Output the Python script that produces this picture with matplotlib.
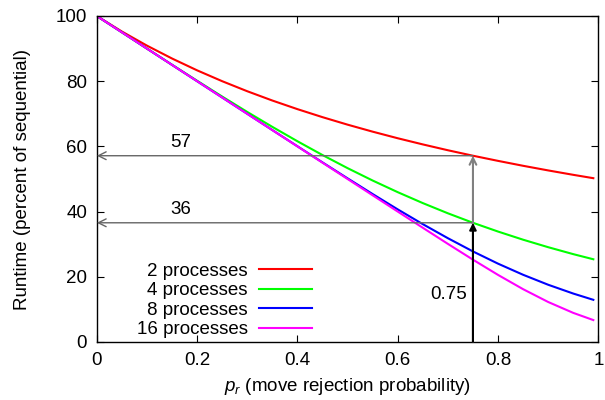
import matplotlib
matplotlib.use("Agg")
import matplotlib.pyplot as plt

plt.rcParams.update({
    "font.size": 13.5,
    "font.family": ["Liberation Sans", "DejaVu Sans"],
    "mathtext.fontset": "custom",
    "mathtext.it": "Liberation Sans:italic",
    "mathtext.rm": "Liberation Sans",
})

# ------------------------------------------------------------
# data (runtime in percent of sequential)
# ------------------------------------------------------------
p_r = [0.00, 0.05, 0.10, 0.15, 0.20, 0.25, 0.30, 0.35, 0.40, 0.45, 0.50,
       0.55, 0.60, 0.65, 0.70, 0.75, 0.80, 0.85, 0.90, 0.95, 0.99]

run_2 = [100.0, 95.24, 90.91, 86.96, 83.33, 80.00, 76.92, 74.07, 71.43, 68.97,
         66.67, 64.52, 62.50, 60.61, 58.82, 57.14, 55.56, 54.05, 52.63, 51.28, 50.25]
run_4 = [100.0, 95.00, 90.01, 85.04, 80.13, 75.29, 70.57, 65.99, 61.58, 57.35,
         53.33, 49.53, 45.96, 42.61, 39.48, 36.57, 33.88, 31.38, 29.08, 26.95, 25.38]
run_8 = [100.0, 95.00, 90.00, 85.00, 80.00, 75.00, 70.00, 65.01, 60.04, 55.09,
         50.20, 45.38, 40.68, 36.15, 31.84, 27.78, 24.03, 20.62, 17.56, 14.86, 12.94]
run_16 = [100.0, 95.00, 90.00, 85.00, 80.00, 75.00, 70.00, 65.00, 60.00, 55.00,
          50.00, 45.00, 40.01, 35.04, 30.10, 25.25, 20.58, 16.20, 12.27, 8.93, 6.73]

series = [
    ("2 processes", run_2, "#ff0000"),
    ("4 processes", run_4, "#00ff00"),
    ("8 processes", run_8, "#0000ff"),
    ("16 processes", run_16, "#ff00ff"),
]

# marked point
p_mark = 0.75
y_mark_2 = 57.14
y_mark_4 = 36.57
lab_2 = "57"
lab_4 = "36"

# ------------------------------------------------------------
# plot
# ------------------------------------------------------------
fig = plt.figure(figsize=(6.05, 4.0), dpi=100)
ax = fig.add_axes([0.160, 0.145, 0.829, 0.815])

for label, vals, col in series:
    ax.plot(p_r, vals, color=col, lw=1.5, label=label)

grey = "#666666"
# horizontal guide arrows
for yv in [y_mark_2, y_mark_4]:
    ax.annotate("", xy=(0, yv), xytext=(p_mark, yv),
                arrowprops=dict(arrowstyle="->", color=grey, lw=1.0,
                                shrinkA=0, shrinkB=0,
                                mutation_scale=14))
# vertical arrows
ax.annotate("", xy=(p_mark, y_mark_2), xytext=(p_mark, 0),
            arrowprops=dict(arrowstyle="->", color="#808080", lw=1.5,
                            shrinkA=0, shrinkB=0, mutation_scale=12))
ax.annotate("", xy=(p_mark, y_mark_4), xytext=(p_mark, 0),
            arrowprops=dict(arrowstyle="-|>", color="black", lw=1.5,
                            shrinkA=0, shrinkB=0, mutation_scale=10))

ax.text(0.167, y_mark_2 + 1.5, lab_2, ha="center", va="bottom")
ax.text(0.167, y_mark_4 + 1.5, lab_4, ha="center", va="bottom")
ax.text(p_mark - 0.012, 14.5, "0.75", ha="right", va="center")

ax.set_xlim(0, 1)
ax.set_ylim(0, 100)
ax.set_xticks([0, 0.2, 0.4, 0.6, 0.8, 1])
ax.set_xticklabels(["0", "0.2", "0.4", "0.6", "0.8", "1"])
ax.set_yticks([0, 20, 40, 60, 80, 100])
ax.tick_params(direction="in", top=True, right=True, length=5, width=0.8, pad=7)

ax.set_xlabel(r"$p_r$ (move rejection probability)", labelpad=5)
ax.set_ylabel("Runtime (percent of sequential)", labelpad=18)

leg = ax.legend(loc="lower left", bbox_to_anchor=(0.05, -0.034),
                frameon=False, markerfirst=False, handlelength=2.8,
                handletextpad=0.6, labelspacing=0.12, borderpad=0.3)

for s in ax.spines.values():
    s.set_linewidth(1.0)

plt.savefig("out.png", dpi=100)
